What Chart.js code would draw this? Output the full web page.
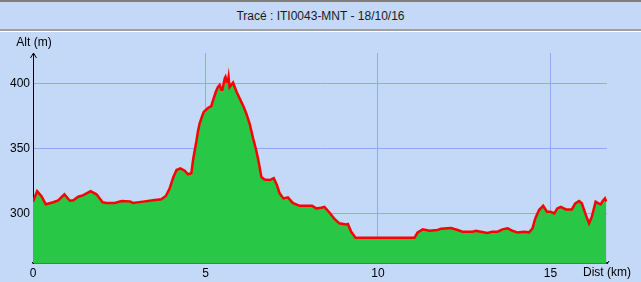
<!DOCTYPE html>
<html>
<head>
<meta charset="utf-8">
<script src="https://cdn.jsdelivr.net/npm/chart.js@4"></script>
<style>
  html, body { margin: 0; padding: 0; background: #C3D9F7; }
  #wrap { position: relative; width: 641px; height: 282px; overflow: hidden; }
  #title {
    position: absolute; left: 0; top: 0; width: 641px; height: 27px;
    border-top: 2px solid #7F7F7F; border-bottom: 2px solid #A0A0A0;
    box-shadow: 0 1px 0 #FFFFFF;
    font: 12px "Liberation Sans", Arial, sans-serif; color: #1A1A1A;
    text-align: center; line-height: 28px;
  }
  #c { position: absolute; left: 0; top: 0; }
</style>
</head>
<body>
<div id="wrap">
  <div id="title">Tracé : ITI0043-MNT - 18/10/16</div>
  <canvas id="c" width="641" height="282"></canvas>
</div>
<script>
// profile: distance (km) / altitude (m)
const distKm = [
  0.00, 0.12, 0.25, 0.37, 0.59, 0.73, 0.91, 1.07, 1.17, 1.31, 1.46, 1.67, 1.84, 2.02, 2.13, 2.37,
  2.57, 2.81, 2.90, 3.19, 3.48, 3.72, 3.85, 3.96, 4.07, 4.16, 4.27, 4.40, 4.49, 4.59, 4.64, 4.69,
  4.74, 4.78, 4.83, 4.88, 4.95, 5.07, 5.17, 5.19, 5.27, 5.30, 5.36, 5.41, 5.46, 5.49, 5.56, 5.58,
  5.62, 5.65, 5.67, 5.70, 5.80, 5.90, 5.99, 6.09, 6.18, 6.28, 6.38, 6.47, 6.55, 6.62, 6.71, 6.86,
  6.98, 7.07, 7.15, 7.26, 7.39, 7.53, 7.73, 8.09, 8.21, 8.35, 8.45, 8.60, 8.74, 8.88, 9.08, 9.13,
  9.22, 9.35, 10.04, 11.06, 11.15, 11.30, 11.49, 11.73, 11.83, 12.12, 12.31, 12.45, 12.74, 12.84, 12.98, 13.17,
  13.32, 13.47, 13.61, 13.76, 13.90, 14.05, 14.24, 14.38, 14.48, 14.56, 14.67, 14.79, 14.90, 15.01, 15.11, 15.20,
  15.30, 15.45, 15.62, 15.72, 15.83, 15.91, 16.01, 16.12, 16.20, 16.31, 16.39, 16.46, 16.52, 16.58, 16.62
];
const altM = [
  309, 317, 313, 307, 308.5, 310, 314.6, 309.7, 310, 312.8, 314, 317, 314.6, 308.5, 308, 308,
  309.5, 309.2, 308, 309, 310, 310.8, 313.3, 319, 328, 333.3, 334.6, 332.8, 330, 330.8, 341, 348.7,
  356, 362.8, 369, 373, 378, 381, 382.5, 384.6, 391, 393.5, 397, 398.7, 395, 395, 404, 405,
  401, 401, 404.6, 397, 400.5, 393.5, 388.4, 383, 377, 369, 357.7, 348.7, 338.5, 328, 326, 325.6,
  327, 321.8, 315.4, 311.5, 312.3, 308, 305.8, 305.8, 303.8, 304.3, 305, 300.5, 295.7, 292.3, 291.5, 291.8,
  286, 281.3, 281.3, 281.3, 285.4, 287.7, 286.6, 287.2, 288.2, 288.7, 287.2, 285.9, 285.9, 286.6, 285.9, 284.9,
  285.9, 285.9, 287.7, 288.5, 286.6, 285.2, 285.9, 285.4, 288.5, 296, 302.5, 305.8, 301.2, 301.2, 300, 303.8,
  305, 303, 303, 307.7, 309.5, 307.7, 300, 292.3, 297.4, 309, 307.7, 307, 309.7, 311.5, 309
];
const xTicks = [0, 5, 10, 15];
const yTicks = [300, 350, 400];

const points = distKm.map((d, i) => ({ x: d, y: altM[i] }));
const gridBlue = '#8CACF2';
const tickFont = { family: '"Liberation Sans", Arial, sans-serif', size: 12 };

const axisExtras = {
  id: 'axisExtras',
  afterDraw(chart) {
    const ctx = chart.ctx;
    const a = chart.chartArea;
    ctx.save();
    ctx.strokeStyle = '#000';
    ctx.lineWidth = 1;
    // arrow on the altitude axis
    ctx.beginPath();
    ctx.moveTo(a.left + 0.5, a.top);
    ctx.lineTo(a.left - 2.5, a.top + 5);
    ctx.moveTo(a.left + 0.5, a.top);
    ctx.lineTo(a.left + 3.5, a.top + 5);
    ctx.stroke();
    // end mark on the distance axis
    ctx.beginPath();
    ctx.moveTo(a.right, a.bottom + 1);
    ctx.lineTo(a.right + 2, a.bottom - 2);
    ctx.stroke();
    ctx.fillStyle = '#000';
    ctx.font = '12px "Liberation Sans", Arial, sans-serif';
    ctx.textAlign = 'center';
    ctx.textBaseline = 'middle';
    ctx.fillText('Alt (m)', a.left + 1, 43);
    ctx.fillText('Dist (km)', a.right, 273);
    ctx.restore();
  }
};

new Chart(document.getElementById('c'), {
  type: 'line',
  data: {
    datasets: [{
      data: points,
      borderColor: '#FF0000',
      borderWidth: 2.5,
      backgroundColor: '#28C846',
      fill: 'start',
      pointRadius: 0,
      tension: 0
    }]
  },
  options: {
    responsive: false,
    animation: false,
    events: [],
    layout: { padding: { top: 53, right: 34, left: 0, bottom: 0 } },
    plugins: { legend: { display: false }, tooltip: { enabled: false } },
    scales: {
      x: {
        type: 'linear',
        min: 0,
        max: 16.64,
        afterBuildTicks: s => { s.ticks = xTicks.map(v => ({ value: v })); },
        afterFit: s => { s.height = 19; },
        grid: {
          color: c => (c.tick && c.tick.value === 0 ? 'rgba(0,0,0,0)' : gridBlue),
          lineWidth: 1,
          drawTicks: false
        },
        border: { color: '#000', width: 1.5 },
        ticks: { color: '#000', font: tickFont, padding: 3, maxRotation: 0, autoSkip: false }
      },
      y: {
        min: 261.8,
        max: 423.3,
        afterBuildTicks: s => { s.ticks = yTicks.map(v => ({ value: v })); },
        afterFit: s => { s.width = 33; },
        grid: { color: gridBlue, lineWidth: 1, drawTicks: false },
        border: { color: '#000', width: 1 },
        ticks: { color: '#000', font: tickFont, padding: 3 }
      }
    }
  },
  plugins: [axisExtras]
});
</script>
</body>
</html>
